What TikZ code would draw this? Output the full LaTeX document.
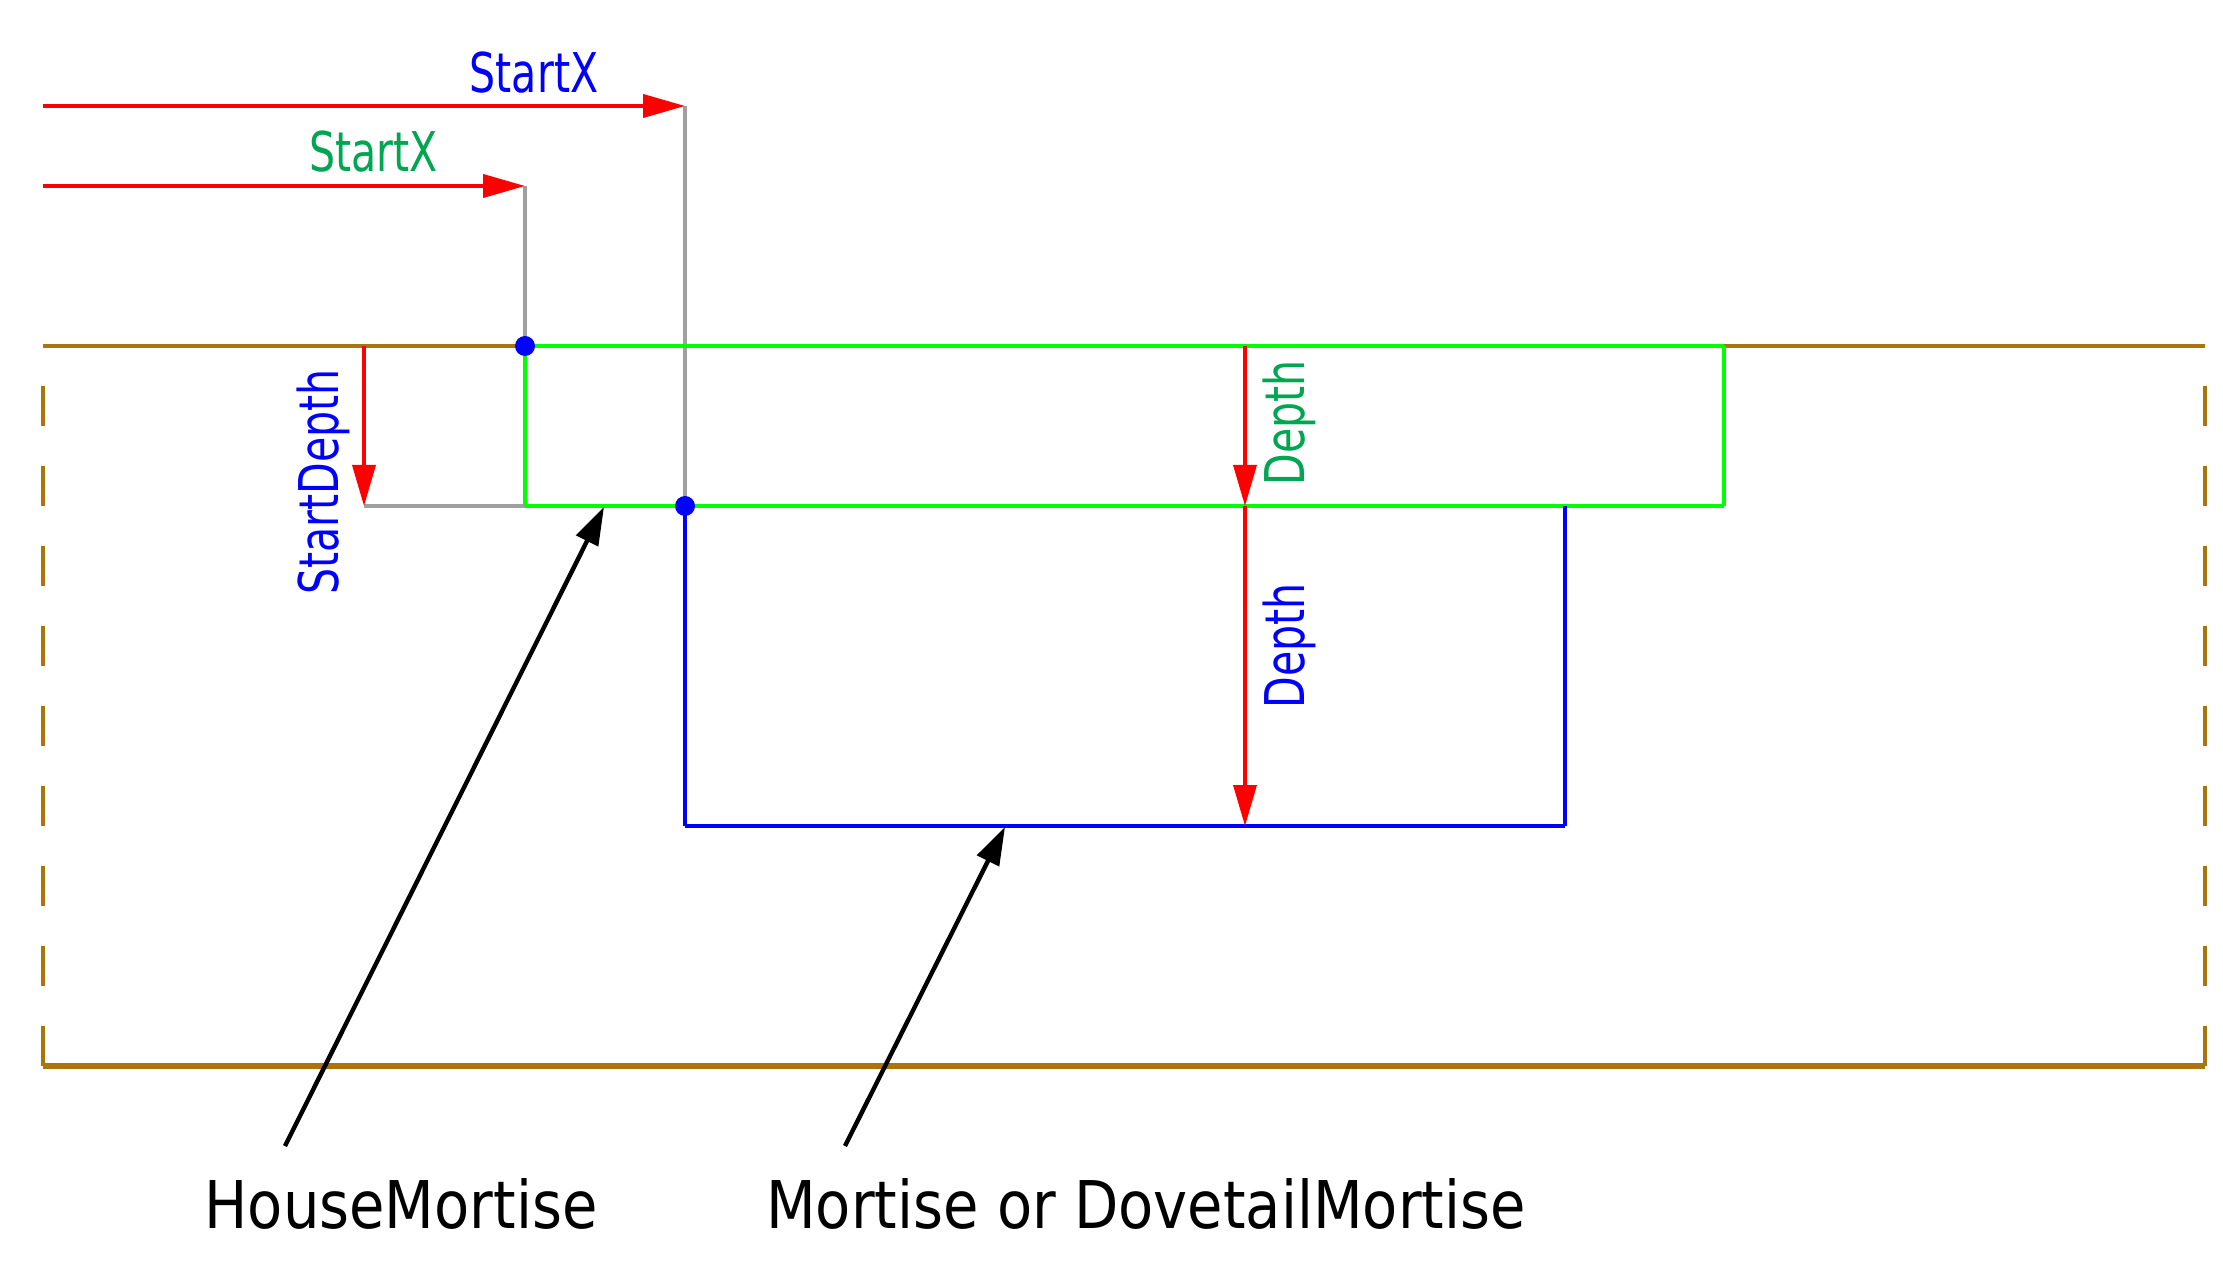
\documentclass[tikz,border=0pt]{standalone}
\usepackage{fontspec}
\usetikzlibrary{arrows.meta}
\newfontfamily\lblfont[FakeStretch=0.75]{DejaVu Sans}
\newfontfamily\bigfont[FakeStretch=0.875]{DejaVu Sans}
\definecolor{brownl}{RGB}{170,117,10}
\definecolor{greenl}{RGB}{0,255,0}
\definecolor{greent}{RGB}{0,166,81}
\definecolor{greyl}{RGB}{160,160,160}
\definecolor{bluel}{RGB}{0,0,255}
\definecolor{redl}{RGB}{255,0,0}
\tikzset{
  smalltext/.style={font=\lblfont\fontsize{27.4}{30}\selectfont, inner sep=0pt},
  bigtext/.style={font=\bigfont\fontsize{32.9}{36}\selectfont, inner sep=0pt, text=black},
  harrow/.style={draw=redl, fill=redl, line width=2pt, -{Triangle[length=21pt,width=11.5pt]}},
  varrow/.style={draw=redl, fill=redl, line width=1.75pt, -{Triangle[length=20.5pt,width=11.5pt]}},
  leader/.style={draw=black, line width=2.2pt, -{Triangle[length=19pt,width=12pt]}},
  guide/.style={draw=greyl, line width=1.75pt},
  dotb/.style={fill=bluel},
}
\begin{document}
\begin{tikzpicture}[x=0.5pt,y=-0.5pt]
\useasboundingbox (0,0) rectangle (2223,1272);
% coordinates
\coordinate (a1s) at (43,106);
\coordinate (a1e) at (685,106);
\coordinate (a2s) at (43,186);
\coordinate (a2e) at (525,186);
\coordinate (gTL) at (525,346);
\coordinate (gTR) at (1724,346);
\coordinate (gBR) at (1724,506);
\coordinate (gBL) at (525,506);
\coordinate (bTL) at (685,506);
\coordinate (bBL) at (685,826);
\coordinate (bBR) at (1565,826);
\coordinate (bTR) at (1565,506);
\coordinate (boxTL) at (43,346);
\coordinate (boxTR) at (2205,346);
\coordinate (boxBL) at (43,1066);
\coordinate (boxBR) at (2205,1066);
\coordinate (sdTop) at (364,346);
\coordinate (sdBot) at (364,506);
\coordinate (d1) at (1245,346);
\coordinate (d2) at (1245,506);
\coordinate (d3) at (1245,826);
\coordinate (h1) at (285,1146);
\coordinate (h2) at (604,507);
\coordinate (m1) at (845,1146);
\coordinate (m2) at (1005,827);
% board outline
\draw[brownl, line width=2.25pt] (boxTL) -- (boxTR);
\draw[brownl, line width=1.75pt, dash pattern=on 20pt off 20pt] (boxBL) -- (boxTL);
\draw[brownl, line width=1.75pt, dash pattern=on 20pt off 20pt] (boxBR) -- (boxTR);
\draw[brownl, line width=2.75pt] (boxBL) -- (boxBR);
% grey guide lines
\draw[guide] (a1e) -- (bTL);
\draw[guide] (a2e) -- (gTL);
\draw[guide] (sdBot) -- (gBL);
% house mortise (green)
\draw[greenl, line width=2.25pt] (gTL) -- (gTR);
\draw[greenl, line width=2.25pt] (gBL) -- (gBR);
\draw[greenl, line width=1.75pt] (gTL) -- (gBL);
\draw[greenl, line width=1.75pt] (gTR) -- (gBR);
% mortise (blue)
\draw[bluel, line width=1.75pt] (bTL) -- (bBL);
\draw[bluel, line width=1.75pt] (bTR) -- (bBR);
\draw[bluel, line width=2.25pt] (bBL) -- (bBR);
% dimension arrows
\draw[harrow] (a1s) -- (a1e);
\draw[harrow] (a2s) -- (a2e);
\draw[varrow] (sdTop) -- (sdBot);
\draw[varrow] (d1) -- (d2);
\draw[varrow] (d2) -- (d3);
% dots
\fill[dotb] (gTL) circle (10);
\fill[dotb] (bTL) circle (10);
% leaders
\draw[leader] (h1) -- (h2);
\draw[leader] (m1) -- (m2);
% labels
\node[smalltext, text=bluel, anchor=base] (sx1) at (534,93) {StartX};
\node[smalltext, text=greent, anchor=base] (sx2) at (373.5,172) {StartX};
\node[smalltext, text=bluel, rotate=90, anchor=base] (sd) at (338,482) {StartDepth};
\node[smalltext, text=greent, rotate=90, anchor=base] (dg) at (1304,423) {Depth};
\node[smalltext, text=bluel, rotate=90, anchor=base] (db) at (1304,646) {Depth};
\node[bigtext, anchor=base] (hm) at (401,1228) {HouseMortise};
\node[bigtext, anchor=base] (mo) at (1146,1228) {Mortise or DovetailMortise};
\end{tikzpicture}
\end{document}
